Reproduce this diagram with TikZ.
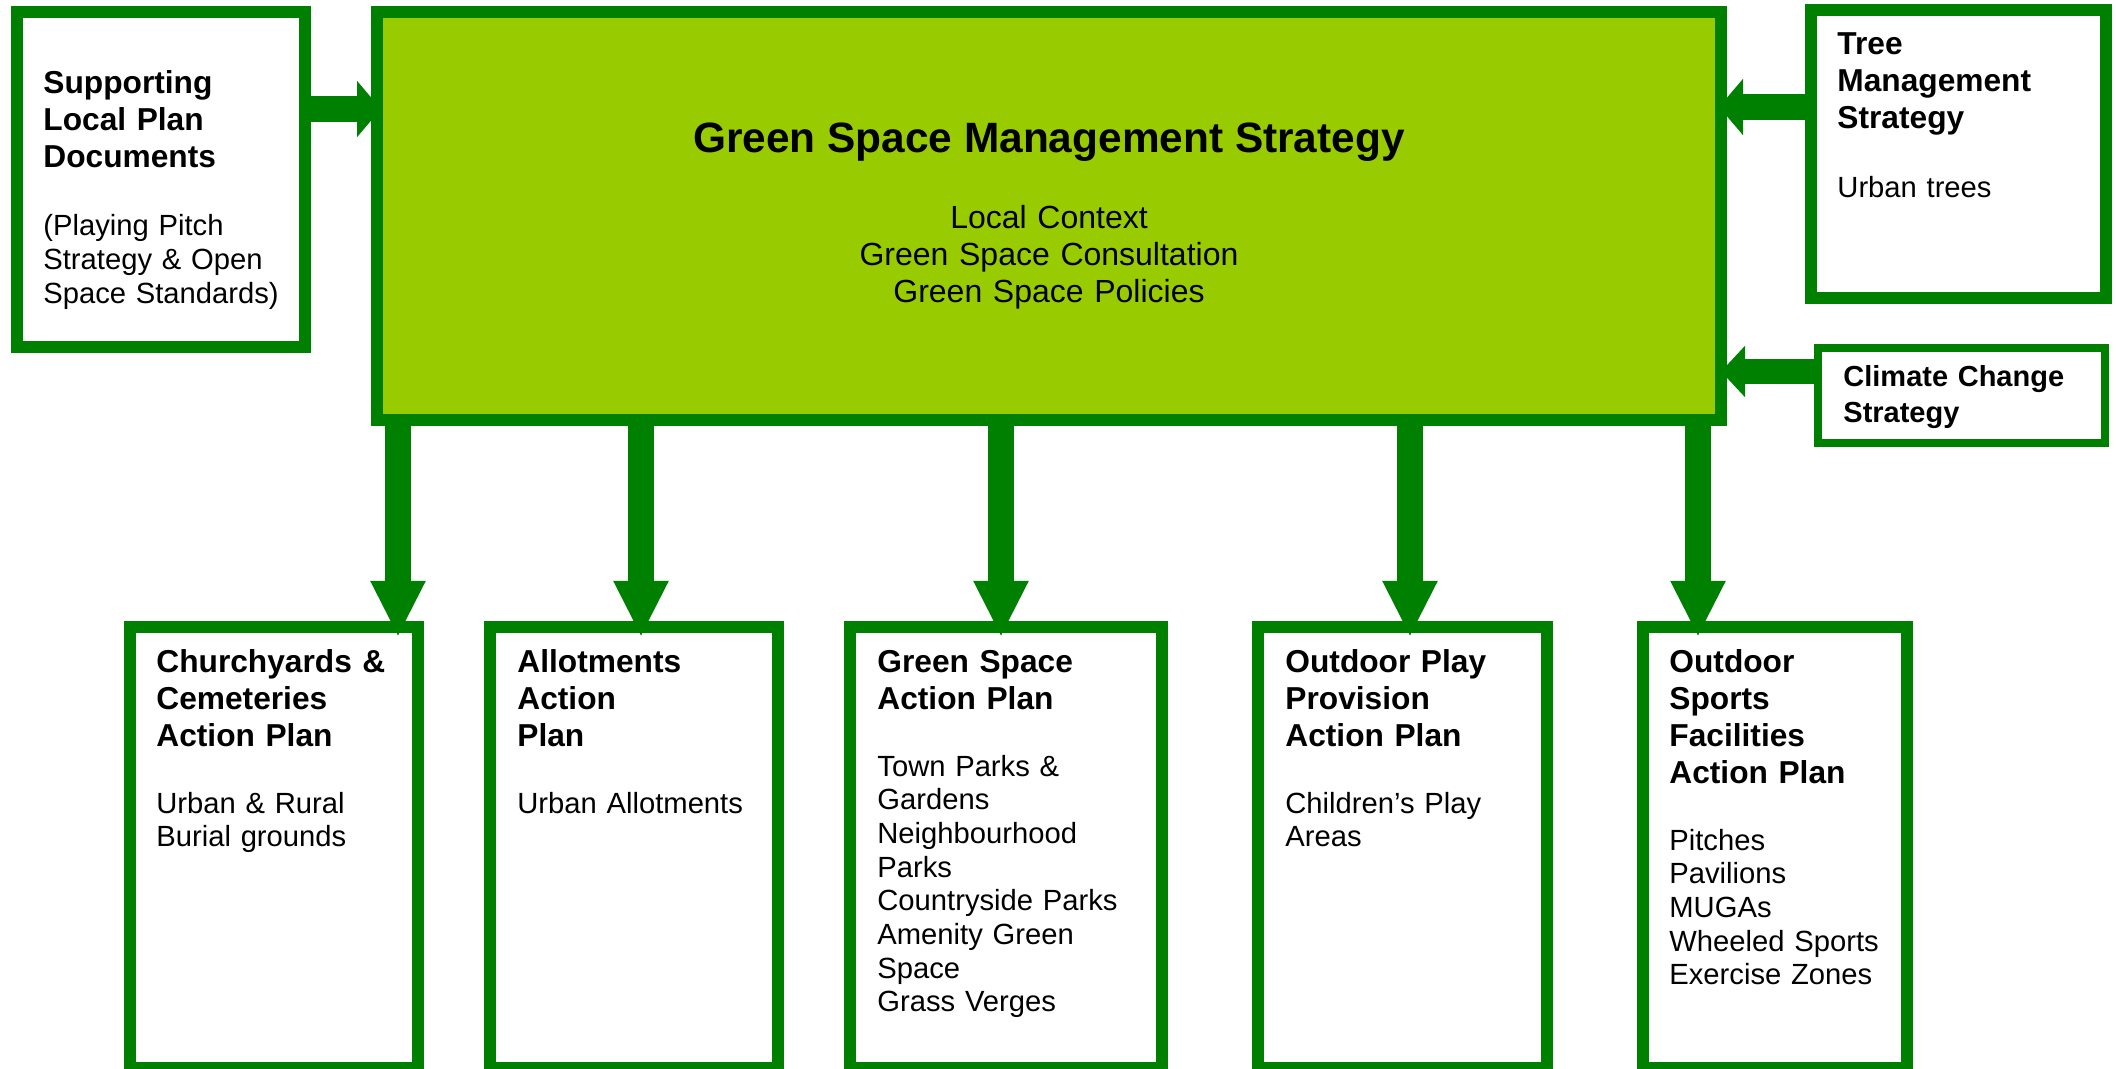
\documentclass[tikz,border=0pt]{standalone}
\usepackage{fontspec}
\setmainfont{Liberation Sans}
\usetikzlibrary{arrows.meta}
\definecolor{dkgreen}{HTML}{008000}
\definecolor{ltgreen}{HTML}{99CC00}
\begin{document}
\begin{tikzpicture}[x=0.5pt,y=-0.5pt,
  box/.style={draw=dkgreen,line width=6pt,fill=white,inner sep=0pt,outer sep=0pt,rectangle},
  hd/.style={anchor=base west,inner sep=0pt,text width=160pt,align=left,font=\fontsize{15.85}{18.5}\selectfont\bfseries},
  bd/.style={anchor=base west,inner sep=0pt,text width=160pt,align=left,font=\fontsize{14.6}{16.85}\selectfont},
  dnarrow/.style={draw=dkgreen,line width=13pt,-{Triangle[width=25.5pt,length=28pt]}},
  sidearrow/.style={draw=dkgreen,line width=13pt,-{Triangle[width=27.5pt,length=12pt]}}
]
\useasboundingbox (0,0) rectangle (2116,1069);
% boxes
\node[box,minimum width=144pt,minimum height=167.5pt] (sup) at (161,179.5) {};
\node[box,fill=ltgreen,minimum width=672pt,minimum height=204pt] (main) at (1049,216) {};
\node[box,minimum width=147.5pt,minimum height=144pt] (tree) at (1958.5,154) {};
\node[box,line width=4pt,minimum width=143.5pt,minimum height=47.5pt] (clim) at (1961.5,395.5) {};
\node[box,minimum width=144pt,minimum height=220.5pt] (cc) at (274,847.5) {};
\node[box,minimum width=144pt,minimum height=220.5pt] (al) at (634,847.5) {};
\node[box,minimum width=156pt,minimum height=220.5pt] (gs) at (1006,847.5) {};
\node[box,minimum width=144.5pt,minimum height=220.5pt] (op) at (1402.5,847.5) {};
\node[box,minimum width=132pt,minimum height=220.5pt] (os) at (1775,847.5) {};
% arrow guide coordinates
\coordinate (a1) at (398,0);
\coordinate (a2) at (641,0);
\coordinate (a3) at (1001,0);
\coordinate (a4) at (1410,0);
\coordinate (a5) at (1698,0);
\coordinate (l1) at (0,109);
\coordinate (r1) at (0,107);
\coordinate (r2) at (0,371.5);
% down arrows
\draw[dnarrow] (a1 |- main.south) -- ([yshift=-5pt]a1 |- cc.north);
\draw[dnarrow] (a2 |- main.south) -- ([yshift=-5pt]a2 |- al.north);
\draw[dnarrow] (a3 |- main.south) -- ([yshift=-5pt]a3 |- gs.north);
\draw[dnarrow] (a4 |- main.south) -- ([yshift=-5pt]a4 |- op.north);
\draw[dnarrow] (a5 |- main.south) -- ([yshift=-5pt]a5 |- os.north);
% side arrows
\draw[sidearrow] (sup.east |- l1) -- ([xshift=2pt]main.west |- l1);
\draw[sidearrow] (tree.west |- r1) -- ([xshift=-1pt]main.east |- r1);
\draw[sidearrow,line width=12.5pt,-{Triangle[width=25pt,length=12pt]}] (clim.west |- r2) -- (main.east |- r2);
% texts
\node[anchor=base,inner sep=0pt,font=\fontsize{21.2}{25}\selectfont\bfseries] (title) at (1049,153) {Green Space Management Strategy};
\node[anchor=base,inner sep=0pt,text width=300pt,align=center,font=\fontsize{16}{18.5}\selectfont] (sub) at (1049,229) {Local Context\\Green Space Consultation\\Green Space Policies};
\node[hd] (supH) at (43,94) {Supporting\\Local Plan\\Documents};
\node[bd] (supB) at (43,236) {(Playing Pitch\\Strategy \& Open\\Space Standards)};
\node[hd] (treeH) at (1837,55) {Tree\\Management\\Strategy};
\node[bd] (treeB) at (1837,198) {Urban trees};
\node[hd,font=\fontsize{14.5}{18}\selectfont\bfseries] (climH) at (1843,387) {Climate Change\\Strategy};
\node[hd] (ccH) at (156,672) {Churchyards \&\\Cemeteries\\Action Plan};
\node[bd] (ccB) at (156,813) {Urban \& Rural\\Burial grounds};
\node[hd] (alH) at (517,672) {Allotments\\Action\\Plan};
\node[bd] (alB) at (517,813) {Urban Allotments};
\node[hd] (gsH) at (877,672) {Green Space\\Action Plan};
\node[bd] (gsB) at (877,776) {Town Parks \&\\Gardens\\Neighbourhood\\Parks\\Countryside Parks\\Amenity Green\\Space\\Grass Verges};
\node[hd] (opH) at (1285,672) {Outdoor Play\\Provision\\Action Plan};
\node[bd] (opB) at (1285,813) {Children’s Play\\Areas};
\node[hd] (osH) at (1669,672) {Outdoor\\Sports\\Facilities\\Action Plan};
\node[bd] (osB) at (1669,850) {Pitches\\Pavilions\\MUGAs\\Wheeled Sports\\Exercise Zones};
\end{tikzpicture}
\end{document}
